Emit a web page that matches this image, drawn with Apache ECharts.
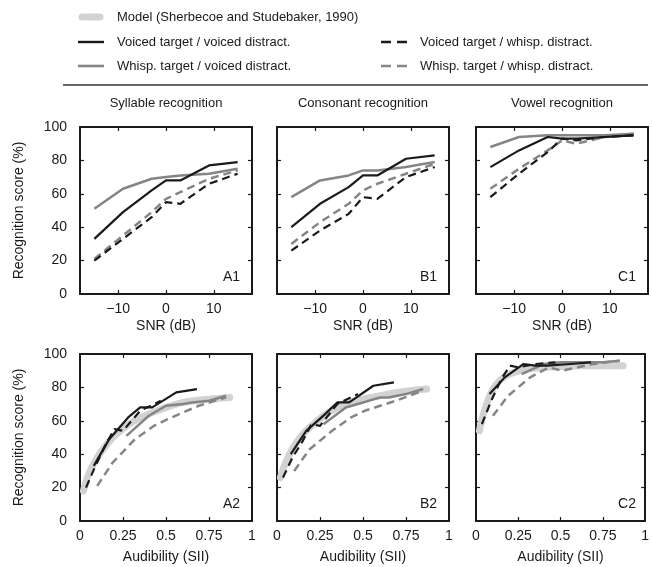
<!DOCTYPE html>
<html><head><meta charset="utf-8">
<script src="https://cdn.jsdelivr.net/npm/echarts@6/dist/echarts.min.js"></script>
<style>html,body{margin:0;padding:0;background:#fff}#c{width:652px;height:567px}</style>
</head><body><div id="c"></div>
<script>
// ---- data ----
const snrX = [-15, -9, -3, 0, 3, 9, 15];
// Syllable
const sylVV = [33, 49, 62, 68, 68, 77, 79];
const sylWV = [51, 63, 69, 70, 71, 72, 75];
const sylVW = [20, 33, 46, 55, 54, 66, 72];
const sylWW = [21, 35, 49, 57, 61, 69, 74];
// Consonant
const conVV = [40, 54, 64, 71, 71, 81, 83];
const conWV = [58, 68, 71, 74, 74, 76, 79];
const conVW = [26, 38, 48, 58, 57, 70, 76];
const conWW = [30, 43, 54, 62, 66, 72, 78];
// Vowel
const vowVV = [76, 86, 94, 93, 93, 94, 95];
const vowWV = [88, 94, 95, 95, 95, 95, 96];
const vowVW = [58, 72, 85, 93, 92, 94, 95];
const vowWW = [63, 75, 86, 92, 90, 94, 96];
// Audibility (SII) per condition
const siiVV = [0.08, 0.17, 0.28, 0.35, 0.42, 0.56, 0.68];
const siiWV = [0.27, 0.40, 0.50, 0.60, 0.65, 0.75, 0.85];
const siiVW = [0.035, 0.09, 0.15, 0.20, 0.25, 0.35, 0.47];
const siiWW = [0.10, 0.19, 0.32, 0.43, 0.51, 0.69, 0.85];
// Model (Sherbecoe and Studebaker, 1990)
const modelSII = [0.02, 0.05, 0.10, 0.15, 0.20, 0.30, 0.40, 0.50, 0.60, 0.70, 0.87];
const modelSyl = [18, 28, 38, 45, 51, 59, 64, 68, 71, 72.5, 74];
const modelCon = [26, 35, 45, 52, 57, 65, 70, 73, 75, 77, 79];
const modelVow = [54, 66, 79, 85, 88, 91, 92, 92.5, 93, 93, 93];
// Labels
const titles = ['Syllable recognition', 'Consonant recognition', 'Vowel recognition'];
const panelTags = [['A1', 'B1', 'C1'], ['A2', 'B2', 'C2']];
const snrTicks = [-10, 0, 10];
const siiTicks = [0, 0.25, 0.5, 0.75, 1];
const yTicks = [0, 20, 40, 60, 80, 100];
const legendNames = ['Model (Sherbecoe and Studebaker, 1990)', 'Voiced target / voiced distract.', 'Whisp. target / voiced distract.', 'Voiced target / whisp. distract.', 'Whisp. target / whisp. distract.'];

// ---- layout ----
const FONT = 'Liberation Sans, Arial, Helvetica, sans-serif';
const BLACK = '#1a1a1a', GRAY = '#858585', MODEL = '#d2d2d2';
const lefts = [80, 277, 476];
const tops = [127, 354];
const W = 172, H = 167;
const grid = [], xAxis = [], yAxis = [], series = [];
const graphic = [];
const sets = [[sylVV, sylWV, sylVW, sylWW], [conVV, conWV, conVW, conWW], [vowVV, vowWV, vowVW, vowWW]];
const models = [modelSyl, modelCon, modelVow];
const siis = [siiVV, siiWV, siiVW, siiWW];
const styles = [
  {color: BLACK, type: 'solid', width: 2.2},
  {color: GRAY, type: 'solid', width: 2.5},
  {color: BLACK, type: [8, 5], width: 2.2},
  {color: GRAY, type: [8, 5], width: 2.5}
];
const lblStyle = {color: '#1a1a1a', fontSize: 14, fontFamily: FONT};
const fmtNum = v => (v < 0 ? '\u2212' + Math.abs(v) : String(v));

for (let r = 0; r < 2; r++) {
  for (let c = 0; c < 3; c++) {
    const gi = grid.length;
    grid.push({left: lefts[c], top: tops[r], width: W, height: H, containLabel: false});
    const isSnr = r === 0;
    const xBase = {
      gridIndex: gi, type: 'value',
      min: isSnr ? -18 : 0, max: isSnr ? 18 : 1,
      splitLine: {show: false},
      axisLine: {show: true, onZero: false, lineStyle: {color: BLACK, width: 2}},
    };
    const xTickOpts = isSnr
      ? {axisTick: {inside: true, length: 4, lineStyle: {color: BLACK, width: 1.2}, customValues: snrTicks},
         axisLabel: {customValues: snrTicks, formatter: fmtNum}}
      : {axisTick: {inside: true, length: 4, lineStyle: {color: BLACK, width: 1.2}, customValues: siiTicks.slice(1, 4)},
         axisLabel: {customValues: siiTicks, formatter: v => String(v)}};
    xAxis.push(Object.assign({}, xBase, {
      position: 'bottom',
      name: isSnr ? 'SNR (dB)' : 'Audibility (SII)',
      nameLocation: 'middle', nameGap: isSnr ? 25 : 29,
      nameTextStyle: {color: '#1a1a1a', fontSize: 14, fontFamily: FONT},
      axisTick: xTickOpts.axisTick,
      axisLabel: Object.assign({show: true, margin: 8}, lblStyle, xTickOpts.axisLabel)
    }, isSnr ? {} : {interval: 0.25}));
    xAxis.push(Object.assign({}, xBase, {
      position: 'top',
      axisTick: xTickOpts.axisTick,
      axisLabel: {show: false}
    }, isSnr ? {} : {interval: 0.25}));
    const yBase = {
      gridIndex: gi, type: 'value', min: 0, max: 100, interval: 20,
      splitLine: {show: false},
      axisLine: {show: true, onZero: false, lineStyle: {color: BLACK, width: 2}},
      axisTick: {inside: true, length: 4, lineStyle: {color: BLACK, width: 1.2}, customValues: [20, 40, 60, 80]}
    };
    yAxis.push(Object.assign({}, yBase, {
      position: 'left',
      name: c === 0 ? 'Recognition score (%)' : '',
      nameLocation: 'middle', nameGap: 54, nameRotate: 90,
      nameTextStyle: {color: '#1a1a1a', fontSize: 14, fontFamily: FONT},
      axisLabel: Object.assign({show: c === 0, margin: 13}, lblStyle, {customValues: yTicks})
    }));
    yAxis.push(Object.assign({}, yBase, {position: 'right', axisLabel: {show: false}}));

    const xi = gi * 2, yi = gi * 2;
    if (!isSnr) {
      series.push({
        type: 'line', xAxisIndex: xi, yAxisIndex: yi, symbol: 'none', smooth: 0.4,
        lineStyle: {color: MODEL, width: 7, cap: 'round', join: 'round'},
        data: modelSII.map((x, i) => [x, models[c][i]]), z: 1, animation: false
      });
    }
    // draw order: gray dashed, gray solid, black dashed, black solid
    [3, 1, 2, 0].forEach(k => {
      const xs = isSnr ? snrX : siis[k];
      series.push({
        type: 'line', xAxisIndex: xi, yAxisIndex: yi, symbol: 'none',
        lineStyle: {color: styles[k].color, width: styles[k].width, type: styles[k].type, join: 'round'},
        data: xs.map((x, i) => [x, sets[c][k][i]]), z: 2, animation: false
      });
    });
    // panel tag
    graphic.push({type: 'text', right: 652 - (lefts[c] + W - 12), top: tops[r] + H - 24,
      style: {text: panelTags[r][c], fill: '#1a1a1a', fontSize: 14, fontFamily: FONT}});
  }
}
// titles
titles.forEach((t, c) => {
  graphic.push({type: 'text', x: lefts[c] + W / 2, y: 103,
    style: {text: t, fill: '#1a1a1a', fontSize: 13, fontFamily: FONT, align: 'center', verticalAlign: 'middle'}});
});
// legend
const legRows = [17, 42, 66];
function seg(x1, x2, y, color, width, dash, cap) {
  graphic.push({type: 'line', shape: {x1, y1: y, x2, y2: y},
    style: {stroke: color, lineWidth: width, lineDash: dash || null, lineCap: cap || 'butt'}});
}
seg(82, 100, legRows[0], MODEL, 7, null, 'round');
seg(78, 104, legRows[1], BLACK, 2.4);
seg(78, 104, legRows[2], GRAY, 2.6);
seg(381, 407, legRows[1], BLACK, 2.4, [10, 6]);
seg(381, 407, legRows[2], GRAY, 2.6, [10, 6]);
const legTxt = [[117, legRows[0], 0], [117, legRows[1], 1], [117, legRows[2], 2], [420, legRows[1], 3], [420, legRows[2], 4]];
legTxt.forEach(([x, y, i]) => {
  graphic.push({type: 'text', x, y,
    style: {text: legendNames[i], fill: '#1a1a1a', fontSize: 13, fontFamily: FONT, verticalAlign: 'middle'}});
});
graphic.push({type: 'line', shape: {x1: 63, y1: 85, x2: 648, y2: 85}, style: {stroke: '#333', lineWidth: 1.3}});

const chart = echarts.init(document.getElementById('c'), null, {renderer: 'canvas'});
chart.setOption({animation: false, grid, xAxis, yAxis, series, graphic});
</script></body></html>
